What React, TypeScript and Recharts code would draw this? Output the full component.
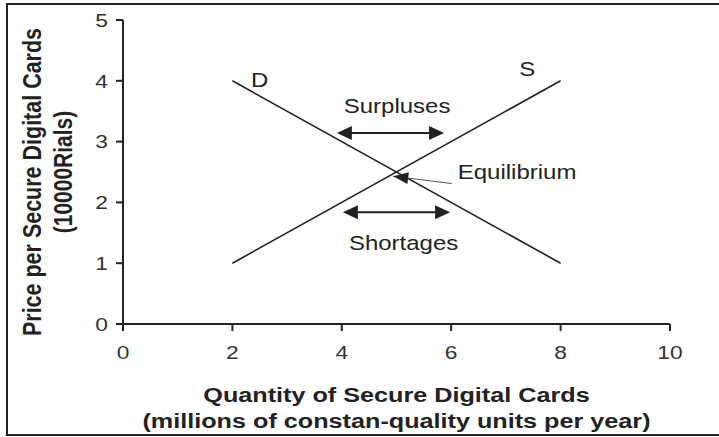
import React from "react";
import {
  LineChart,
  Line,
  XAxis,
  YAxis,
  ReferenceLine,
  ReferenceDot,
} from "recharts";

// quantity (millions) and price (10000 Rials)
const quantity = [2, 8];
const demandPrice = [4, 1];
const supplyPrice = [1, 4];

const xTicks = [0, 2, 4, 6, 8, 10];
const yTicks = [0, 1, 2, 3, 4, 5];

// double arrows: [y, xFrom, xTo]
const surplusArrow = [3.14, 3.91, 5.87];
const shortageArrow = [1.84, 4.02, 5.98];
// equilibrium pointer: tail -> tip
const eqPointer = [
  { x: 6.01, y: 2.31 },
  { x: 4.94, y: 2.43 },
];

// text labels placed at data coords (baseline)
const curveLabels = [
  { text: "D", x: 2.5, y: 3.9, anchor: "middle" },
  { text: "S", x: 7.39, y: 4.08, anchor: "middle" },
  { text: "Surpluses", x: 5.01, y: 3.47, anchor: "middle" },
  { text: "Shortages", x: 5.13, y: 1.22, anchor: "middle" },
  { text: "Equilibrium", x: 6.12, y: 2.38, anchor: "start" },
];

const demandData = quantity.map((q, i) => ({ q, p: demandPrice[i] }));
const supplyData = quantity.map((q, i) => ({ q, p: supplyPrice[i] }));

const SX = 1.2; // source picture is stretched sideways
const INK = "#222";
const FONT = "Arial, 'Liberation Sans', sans-serif";

function arrowHead(tx: number, ty: number, fx: number, fy: number, len: number, half: number) {
  const dx = tx - fx;
  const dy = ty - fy;
  const d = Math.hypot(dx, dy) || 1;
  const ux = dx / d;
  const uy = dy / d;
  const bx = tx - ux * len;
  const by = ty - uy * len;
  return `${tx},${ty} ${bx - uy * half},${by + ux * half} ${bx + uy * half},${by - ux * half}`;
}

const DoubleArrow = (props: any) => {
  const { x1, y1, x2, y2 } = props;
  return (
    <g>
      <line x1={x1 + 10} y1={y1} x2={x2 - 10} y2={y2} stroke={INK} strokeWidth={2} />
      <polygon points={arrowHead(x1, y1, x2, y2, 15, 7)} fill={INK} />
      <polygon points={arrowHead(x2, y2, x1, y1, 15, 7)} fill={INK} />
    </g>
  );
};

const Pointer = (props: any) => {
  const { x1, y1, x2, y2 } = props;
  return (
    <g>
      <line x1={x1} y1={y1} x2={x2} y2={y2} stroke="#555" strokeWidth={1} />
      <polygon points={arrowHead(x2, y2, x1, y1, 15, 6)} fill={INK} />
    </g>
  );
};

const XTick = (p: any) => (
  <g transform={`translate(${p.x},${p.y})`}>
    <text
      transform={`scale(${SX},1)`}
      textAnchor="middle"
      dy="0.71em"
      fontSize={19}
      fontFamily={FONT}
      fill="#333"
    >
      {p.payload.value}
    </text>
  </g>
);

const YTick = (p: any) => (
  <g transform={`translate(${p.x},${p.y})`}>
    <text
      transform={`scale(${SX},1)`}
      textAnchor="end"
      dy="0.355em"
      fontSize={19}
      fontFamily={FONT}
      fill="#333"
    >
      {p.payload.value}
    </text>
  </g>
);

const XTitle = (p: any) => {
  const vb = p.viewBox;
  const cx = vb.x + vb.width / 2;
  return (
    <g fontFamily={FONT} fontSize={21} fontWeight="bold" fill={INK}>
      <text transform={`translate(${cx},402) scale(${SX},1)`} textAnchor="middle">
        Quantity of Secure Digital Cards
      </text>
      <text transform={`translate(${cx},428) scale(${SX},1)`} textAnchor="middle">
        (millions of constan-quality units per year)
      </text>
    </g>
  );
};

const YTitle = (p: any) => {
  const vb = p.viewBox;
  const cy = vb.y + vb.height / 2;
  return (
    <g fontFamily={FONT} fontWeight="bold" fill={INK}>
      <text
        transform={`translate(32,${cy + 10}) scale(${SX},1) rotate(-90)`}
        textAnchor="middle"
        dy="0.355em"
        fontSize={21.5}
      >
        Price per Secure Digital Cards
      </text>
      <text
        transform={`translate(63,${cy}) scale(${SX},1) rotate(-90)`}
        textAnchor="middle"
        dy="0.355em"
        fontSize={21}
      >
        (10000Rials)
      </text>
    </g>
  );
};

const makeTextShape = (text: string, anchor: string) => (p: any) => (
  <text
    transform={`translate(${p.cx},${p.cy}) scale(${SX},1)`}
    textAnchor={anchor}
    fontSize={20}
    fontFamily={FONT}
    fill={INK}
  >
    {text}
  </text>
);

export default function App() {
  return (
    <div
      style={{
        position: "absolute",
        left: 0,
        top: 0,
        width: 719,
        height: 437,
        overflow: "hidden",
        background: "#fff",
      }}
    >
      <div
        style={{
          position: "absolute",
          left: 6,
          top: 3,
          width: 713,
          height: 433,
          boxSizing: "border-box",
          borderLeft: `2px solid ${INK}`,
          borderTop: `2px solid ${INK}`,
          borderBottom: `2px solid ${INK}`,
        }}
      />
      <div style={{ position: "absolute", left: 0, top: 0 }}>
        <LineChart
          width={719}
          height={437}
          margin={{ top: 20, right: 49, bottom: 0, left: 0 }}
        >
          <XAxis
            dataKey="q"
            type="number"
            domain={[0, 10]}
            ticks={xTicks}
            allowDataOverflow
            height={113}
            stroke={INK}
            strokeWidth={2}
            tickSize={7}
            tickMargin={15}
            tick={XTick}
            label={{ content: XTitle }}
          />
          <YAxis
            type="number"
            domain={[0, 5]}
            ticks={yTicks}
            allowDataOverflow
            width={123}
            stroke={INK}
            strokeWidth={2}
            tickSize={7}
            tickMargin={8}
            tick={YTick}
            label={{ content: YTitle }}
          />
          <Line
            data={demandData}
            dataKey="p"
            type="linear"
            stroke={INK}
            strokeWidth={1.6}
            dot={false}
            activeDot={false}
            isAnimationActive={false}
          />
          <Line
            data={supplyData}
            dataKey="p"
            type="linear"
            stroke={INK}
            strokeWidth={1.6}
            dot={false}
            activeDot={false}
            isAnimationActive={false}
          />
          <ReferenceLine
            segment={[
              { x: surplusArrow[1], y: surplusArrow[0] },
              { x: surplusArrow[2], y: surplusArrow[0] },
            ]}
            shape={DoubleArrow}
          />
          <ReferenceLine
            segment={[
              { x: shortageArrow[1], y: shortageArrow[0] },
              { x: shortageArrow[2], y: shortageArrow[0] },
            ]}
            shape={DoubleArrow}
          />
          <ReferenceLine segment={eqPointer} shape={Pointer} />
          {curveLabels.map((l) => (
            <ReferenceDot
              key={l.text}
              x={l.x}
              y={l.y}
              r={0}
              shape={makeTextShape(l.text, l.anchor)}
            />
          ))}
        </LineChart>
      </div>
    </div>
  );
}
